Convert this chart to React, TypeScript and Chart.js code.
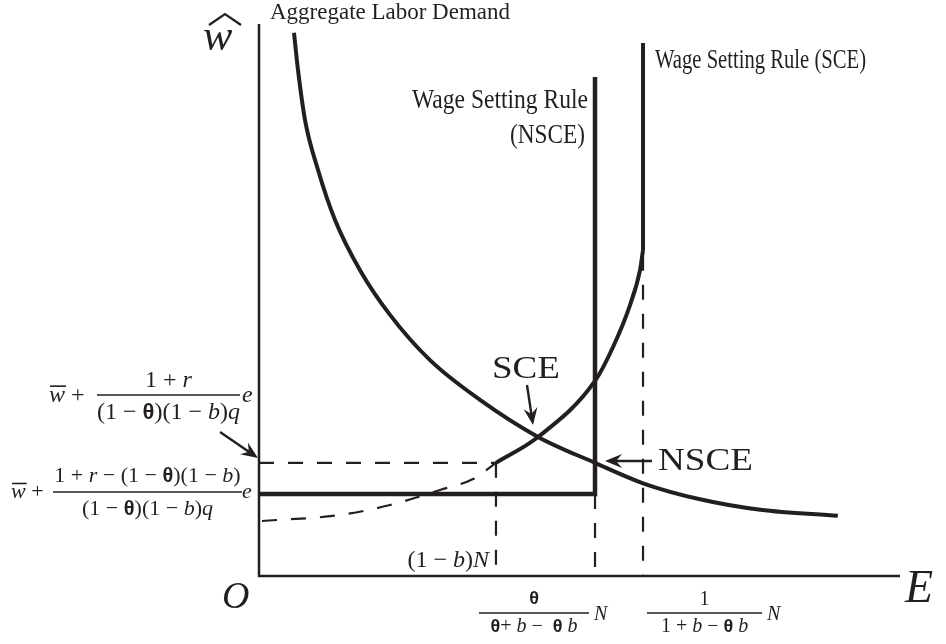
import { useEffect, useRef } from 'react';
import { Chart, registerables } from 'chart.js';

Chart.register(...registerables);

const INK = '#231f20';

// Employment E and wage ŵ are drawn on an abstract 0–100 scale.
const E_MAX = 100;
const W_MAX = 100;

const E_ONE_MINUS_B = 36.97; // (1 − b)N
const E_NSCE = 52.42; // θ/(θ + b − θb) N
const E_SCE = 59.91; // 1/(1 + b − θb) N
const W_FLOOR = 14.86; // NSCE wage floor
const W_KINK = 20.5; // SCE wage at (1 − b)N
const W_NSCE_TOP = 90.4;
const W_SCE_BEND = 59.06;
const W_SCE_TOP = 96.56;
const W_SCE_GUIDE_TOP = 58;

// Aggregate labor demand
const demandE = [5.46, 6.08, 7.18, 9.2, 11.86, 15.76, 20.44, 26.68, 34.48, 43.53, 52.42, 59.91, 68.8, 78.2, 90.3];
const demandW = [98.4, 91.7, 82.6, 73.6, 64.5, 55.4, 47.3, 39.1, 31.9, 25.2, 20.5, 16.8, 13.9, 12.0, 10.9];

// SCE wage setting rule: dashed below (1 − b)N, solid above
const sceLowE = [0.47, 12.64, 20.44, 28.24, 33.39, E_ONE_MINUS_B];
const sceLowW = [9.96, 11.05, 12.86, 15.58, 17.57, W_KINK];
const sceHighE = [E_ONE_MINUS_B, 43.53, 52.42, 55.23, 57.88, 59.44, E_SCE];
const sceHighW = [W_KINK, 25.18, 35.33, 41.49, 49.09, 55.43, W_SCE_BEND];

// Arrows: [tailE, tailW, tipE, tipW]
const arrowLabel = [-6.08, 26.09, -0.16, 21.38];
const arrowSce = [41.81, 34.6, 42.75, 27.36];
const arrowNsce = [61.31, 20.83, 53.98, 20.83];

const pts = (xs: number[], ys: number[]) => xs.map((x, i) => ({ x, y: ys[i] }));

type Seg = { t: string; k: 'r' | 'i' | 'g' | 'wbar' };
const SERIF = '"Liberation Serif", "DejaVu Serif", serif';
const fontFor = (k: Seg['k'], s: number) => {
  if (k === 'i' || k === 'wbar') return `italic ${s}px ${SERIF}`;
  if (k === 'g') return `bold ${Math.round(s * 0.92)}px "Liberation Sans", "DejaVu Sans", sans-serif`;
  return `${s}px ${SERIF}`;
};
const segsWidth = (ctx: CanvasRenderingContext2D, segs: Seg[], s: number) =>
  segs.reduce((w, g) => {
    ctx.font = fontFor(g.k, s);
    return w + ctx.measureText(g.t).width;
  }, 0);

function drawSegs(
  ctx: CanvasRenderingContext2D,
  segs: Seg[],
  x: number,
  y: number,
  s: number,
  align: 'left' | 'center' | 'right' = 'left'
) {
  const total = segsWidth(ctx, segs, s);
  let cx = align === 'left' ? x : align === 'right' ? x - total : x - total / 2;
  ctx.textAlign = 'left';
  ctx.textBaseline = 'alphabetic';
  for (const g of segs) {
    ctx.font = fontFor(g.k, s);
    const w = ctx.measureText(g.t).width;
    ctx.fillText(g.t, cx, y);
    if (g.k === 'wbar') {
      ctx.lineWidth = 1.6;
      ctx.beginPath();
      ctx.moveTo(cx + 1, y - s * 0.66);
      ctx.lineTo(cx + w + 1, y - s * 0.66);
      ctx.stroke();
    }
    cx += w;
  }
  return total;
}

// Plain text squeezed horizontally to a given width
function drawFitted(
  ctx: CanvasRenderingContext2D,
  text: string,
  x: number,
  y: number,
  s: number,
  width: number,
  align: 'left' | 'right' = 'left'
) {
  ctx.font = `${s}px ${SERIF}`;
  const w = ctx.measureText(text).width;
  ctx.save();
  ctx.translate(align === 'left' ? x : x - width, y);
  ctx.scale(width / w, 1);
  ctx.textAlign = 'left';
  ctx.textBaseline = 'alphabetic';
  ctx.fillText(text, 0, 0);
  ctx.restore();
}

function drawFraction(
  ctx: CanvasRenderingContext2D,
  num: Seg[],
  den: Seg[],
  x1: number,
  x2: number,
  barY: number,
  numBase: number,
  denBase: number,
  s: number
) {
  const cx = (x1 + x2) / 2;
  drawSegs(ctx, num, cx, numBase, s, 'center');
  drawSegs(ctx, den, cx, denBase, s, 'center');
  ctx.lineWidth = 1.5;
  ctx.beginPath();
  ctx.moveTo(x1, barY);
  ctx.lineTo(x2, barY);
  ctx.stroke();
}

function drawArrow(ctx: CanvasRenderingContext2D, x0: number, y0: number, x1: number, y1: number) {
  const dx = x1 - x0;
  const dy = y1 - y0;
  const len = Math.hypot(dx, dy);
  const ux = dx / len;
  const uy = dy / len;
  const nx = -uy;
  const ny = ux;
  const L = 17;
  const H = 7;
  ctx.lineWidth = 2.4;
  ctx.beginPath();
  ctx.moveTo(x0, y0);
  ctx.lineTo(x1 - ux * L * 0.6, y1 - uy * L * 0.6);
  ctx.stroke();
  ctx.beginPath();
  ctx.moveTo(x1, y1);
  ctx.lineTo(x1 - ux * L + nx * H, y1 - uy * L + ny * H);
  ctx.lineTo(x1 - ux * L * 0.65, y1 - uy * L * 0.65);
  ctx.lineTo(x1 - ux * L - nx * H, y1 - uy * L - ny * H);
  ctx.closePath();
  ctx.fill();
}

const labelsPlugin = {
  id: 'diagramLabels',
  afterDatasetsDraw(chart: any) {
    const { ctx } = chart;
    const sx = chart.scales.x;
    const sy = chart.scales.y;
    const px = (v: number) => sx.getPixelForValue(v);
    const py = (v: number) => sy.getPixelForValue(v);
    ctx.save();
    ctx.fillStyle = INK;
    ctx.strokeStyle = INK;

    // arrows
    for (const a of [arrowLabel, arrowSce, arrowNsce]) {
      drawArrow(ctx, px(a[0]), py(a[1]), px(a[2]), py(a[3]));
    }

    // axis names
    ctx.font = `italic 46px ${SERIF}`;
    ctx.fillText('E', 905, 602);
    ctx.font = `italic 38px ${SERIF}`;
    ctx.fillText('O', 222, 608);
    ctx.font = `italic 44px ${SERIF}`;
    ctx.fillText('w', 203, 50);
    ctx.lineWidth = 2.2;
    ctx.lineJoin = 'miter';
    ctx.beginPath();
    ctx.moveTo(209, 25);
    ctx.lineTo(225, 14);
    ctx.lineTo(241, 25);
    ctx.stroke();

    // curve names
    drawFitted(ctx, 'Aggregate Labor Demand', 270, 19, 24, 240);
    drawFitted(ctx, 'Wage Setting Rule', 588, 108, 28, 176, 'right');
    drawFitted(ctx, '(NSCE)', 585, 143, 28, 75, 'right');
    drawFitted(ctx, 'Wage Setting Rule (SCE)', 655, 68, 27, 211);
    drawFitted(ctx, 'SCE', 492, 378, 32, 68);
    drawFitted(ctx, 'NSCE', 658, 470, 32, 95);

    // wage levels on the vertical axis
    const den: Seg[] = [
      { t: '(1 − ', k: 'r' },
      { t: 'θ', k: 'g' },
      { t: ')(1 − ', k: 'r' },
      { t: 'b', k: 'i' },
      { t: ')', k: 'r' },
      { t: 'q', k: 'i' },
    ];
    drawSegs(ctx, [{ t: 'w', k: 'wbar' }, { t: ' + ', k: 'r' }], 49, 402, 24);
    drawFraction(ctx, [{ t: '1 + ', k: 'r' }, { t: 'r', k: 'i' }], den, 97, 240, 395, 387, 419, 24);
    drawSegs(ctx, [{ t: 'e', k: 'i' }], 242, 402, 24);

    drawSegs(ctx, [{ t: 'w', k: 'wbar' }, { t: ' + ', k: 'r' }], 11, 498, 22);
    drawFraction(
      ctx,
      [
        { t: '1 + ', k: 'r' },
        { t: 'r', k: 'i' },
        { t: ' − (1 − ', k: 'r' },
        { t: 'θ', k: 'g' },
        { t: ')(1 − ', k: 'r' },
        { t: 'b', k: 'i' },
        { t: ')', k: 'r' },
      ],
      den,
      53,
      242,
      492,
      482,
      515,
      22
    );
    drawSegs(ctx, [{ t: 'e', k: 'i' }], 242, 498, 22);

    // employment levels on the horizontal axis
    drawSegs(
      ctx,
      [
        { t: '(1 − ', k: 'r' },
        { t: 'b', k: 'i' },
        { t: ')', k: 'r' },
        { t: 'N', k: 'i' },
      ],
      px(E_ONE_MINUS_B) - 7,
      567,
      24,
      'right'
    );
    drawFraction(
      ctx,
      [{ t: 'θ', k: 'g' }],
      [
        { t: 'θ', k: 'g' },
        { t: '+ ', k: 'r' },
        { t: 'b', k: 'i' },
        { t: ' −  ', k: 'r' },
        { t: 'θ', k: 'g' },
        { t: ' ', k: 'r' },
        { t: 'b', k: 'i' },
      ],
      px(E_NSCE) - 116,
      px(E_NSCE) - 6,
      613,
      604,
      632,
      20
    );
    drawSegs(ctx, [{ t: 'N', k: 'i' }], px(E_NSCE) - 1, 620, 20);
    drawFraction(
      ctx,
      [{ t: '1', k: 'r' }],
      [
        { t: '1 + ', k: 'r' },
        { t: 'b', k: 'i' },
        { t: ' − ', k: 'r' },
        { t: 'θ', k: 'g' },
        { t: ' ', k: 'r' },
        { t: 'b', k: 'i' },
      ],
      px(E_SCE) + 4,
      px(E_SCE) + 119,
      613,
      605,
      632,
      20
    );
    drawSegs(ctx, [{ t: 'N', k: 'i' }], px(E_SCE) + 124, 620, 20);

    ctx.restore();
  },
};

export default function App() {
  const ref = useRef<HTMLCanvasElement>(null);

  useEffect(() => {
    if (!ref.current) return;
    const solid = { showLine: true, borderColor: INK, pointRadius: 0, clip: false as const, tension: 0 };
    const dashed = { ...solid, borderWidth: 2.2, borderDash: [15, 14] };
    const chart = new Chart(ref.current, {
      type: 'scatter',
      data: {
        datasets: [
          // axes
          { ...solid, borderWidth: 2.5, data: [{ x: 0, y: W_MAX }, { x: 0, y: 0 }, { x: E_MAX, y: 0 }] },
          // guides
          { ...dashed, data: [{ x: 0, y: W_KINK }, { x: E_ONE_MINUS_B, y: W_KINK }] },
          { ...dashed, data: [{ x: E_ONE_MINUS_B, y: W_KINK }, { x: E_ONE_MINUS_B, y: 0 }] },
          { ...dashed, data: [{ x: E_NSCE, y: W_FLOOR }, { x: E_NSCE, y: 0 }] },
          { ...dashed, data: [{ x: E_SCE, y: W_SCE_GUIDE_TOP }, { x: E_SCE, y: 0 }] },
          { ...dashed, cubicInterpolationMode: 'monotone', data: pts(sceLowE, sceLowW) },
          // SCE wage setting rule
          { ...solid, borderWidth: 4, cubicInterpolationMode: 'monotone', data: pts(sceHighE, sceHighW) },
          { ...solid, borderWidth: 4, data: [{ x: E_SCE, y: W_SCE_BEND }, { x: E_SCE, y: W_SCE_TOP }] },
          // NSCE wage setting rule
          {
            ...solid,
            borderWidth: 4.5,
            data: [
              { x: 0, y: W_FLOOR },
              { x: E_NSCE, y: W_FLOOR },
              { x: E_NSCE, y: W_NSCE_TOP },
            ],
          },
          // aggregate labor demand
          { ...solid, borderWidth: 4, cubicInterpolationMode: 'monotone', data: pts(demandE, demandW) },
        ],
      },
      options: {
        responsive: false,
        animation: false,
        layout: { padding: { left: 259, right: 46, top: 24, bottom: 68 } },
        scales: {
          x: { type: 'linear', min: 0, max: E_MAX, display: false },
          y: { type: 'linear', min: 0, max: W_MAX, display: false },
        },
        plugins: { legend: { display: false }, tooltip: { enabled: false } },
      },
      plugins: [labelsPlugin],
    } as any);
    return () => chart.destroy();
  }, []);

  return (
    <div style={{ position: 'absolute', left: 0, top: 0, width: 946, height: 644, background: '#fff' }}>
      <canvas ref={ref} width={946} height={644} />
    </div>
  );
}
